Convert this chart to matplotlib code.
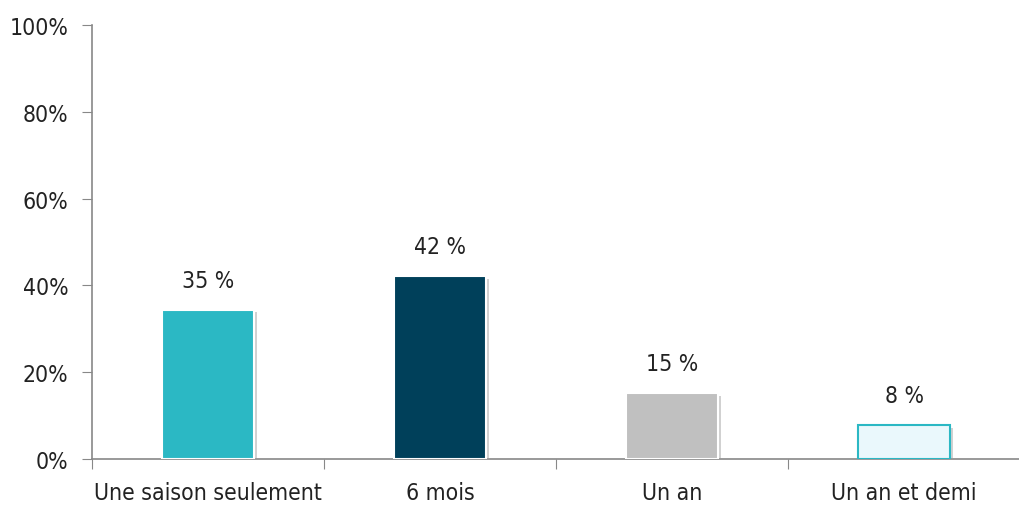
import matplotlib
matplotlib.use("Agg")
import matplotlib.pyplot as plt
import matplotlib.patheffects as pe
import numpy as np

plt.rcParams['font.family'] = ['Liberation Sans Narrow', 'DejaVu Sans']
plt.rcParams['font.stretch'] = 'condensed'

categories = ["Une saison seulement", "6 mois", "Un an", "Un an et demi"]
values = [34.4, 42.2, 15.2, 7.8]
labels = ["35 %", "42 %", "15 %", "8 %"]
colors = ["#2BB8C4", "#00405A", "#C0C0C0", "#EAF8FC"]
edges = ["white", "white", "white", "#2BB8C4"]

fs = 16.5
tc = "#222222"

fig = plt.figure(figsize=(10.2, 5.06), dpi=100)
ax = fig.add_axes([0.0902, 0.0909, 0.9098, 0.8577])

x = np.arange(len(categories))
bars = ax.bar(x, values, width=0.4, color=colors, edgecolor=edges, linewidth=1.5, zorder=3)
for b in bars:
    b.set_path_effects([pe.SimplePatchShadow(offset=(2, -2), shadow_rgbFace="#999999", alpha=0.45), pe.Normal()])

for xi, v, lab in zip(x, values, labels):
    ax.annotate(lab, (xi, v), xytext=(0, 21), textcoords="offset points",
                ha="center", va="center", fontsize=fs, color=tc)

ax.set_xlim(-0.5, len(categories) - 0.5)
ax.set_ylim(0, 100)
ax.set_yticks(np.arange(0, 101, 20))
ax.set_yticklabels([f"{t}%" for t in range(0, 101, 20)])

ax.set_xticks(np.arange(-0.5, len(categories), 1.0))
ax.set_xticklabels([])
ax.set_xticks(x, minor=True)
ax.set_xticklabels(categories, minor=True)
ax.tick_params(axis="x", which="minor", length=0, pad=16, labelsize=fs, labelcolor=tc)
ax.tick_params(axis="x", which="major", length=7, color="#888888", direction="out")
ax.tick_params(axis="y", length=7, color="#888888", labelsize=fs, pad=10, labelcolor=tc)

for s in ["top", "right"]:
    ax.spines[s].set_visible(False)
for s in ["left", "bottom"]:
    ax.spines[s].set_color("#888888")
    ax.spines[s].set_linewidth(1.2)

fig.savefig("out.png", dpi=100)
